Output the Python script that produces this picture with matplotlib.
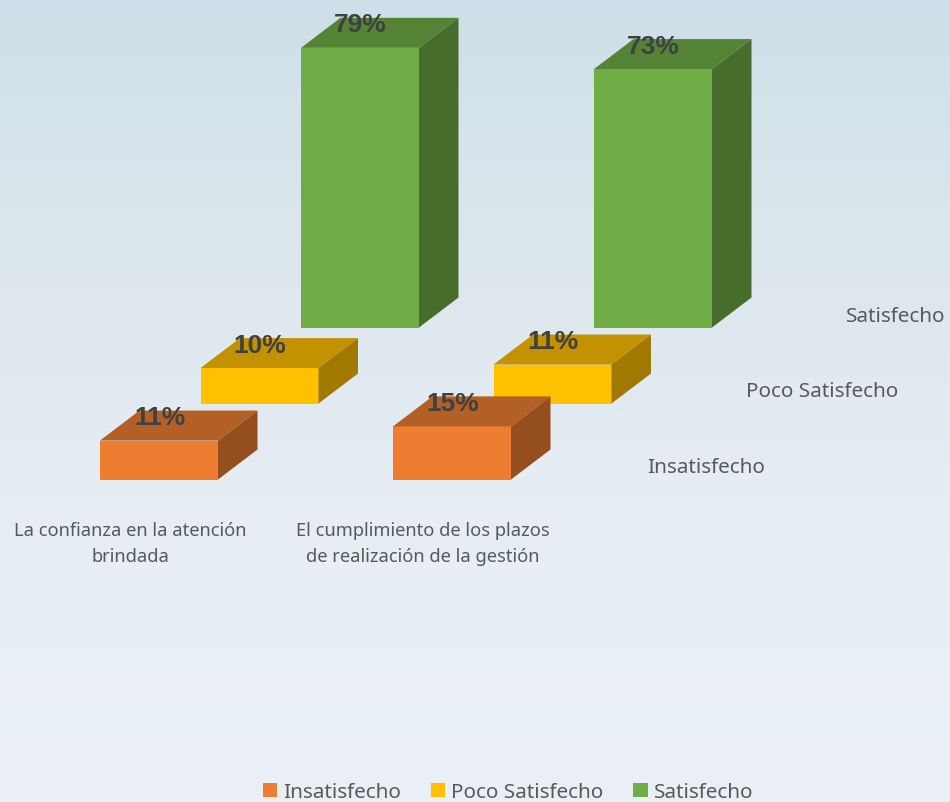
import numpy as np
import matplotlib
matplotlib.use("Agg")
import matplotlib.pyplot as plt
from matplotlib.patches import Polygon, Patch
from matplotlib.colors import LinearSegmentedColormap, to_rgb

categories = ["La confianza en la atención\nbrindada",
              "El cumplimiento de los plazos\nde realización de la gestión"]
series = ["Insatisfecho", "Poco Satisfecho", "Satisfecho"]
insatisfecho = [11, 15]
poco_satisfecho = [10, 11]
satisfecho = [79, 73]
values = [insatisfecho, poco_satisfecho, satisfecho]
colors = ["#ED7D31", "#FFC000", "#70AD47"]

W, H = 950, 803
PX = 3.54            # pixels per percentage point
BASE_Y = 480.5       # pixel row of the front series' floor
X0, CAT_STEP, SER_STEP_X, SER_STEP_Y = 100, 293, 100.5, 76
BAR_W, DX, DY = 118, 39.5, 30
TXT = "#404040"
SANS = "Noto Sans"

def shade(c, f):
    return tuple(v * f for v in to_rgb(c))

fig = plt.figure(figsize=(W / 100, H / 100), dpi=100)
ax = fig.add_axes([0, 0, 1, 1])
ax.set_xlim(0, W)
ax.set_ylim((BASE_Y - H) / PX, BASE_Y / PX)
ax.axis("off")

cmap = LinearSegmentedColormap.from_list(
    "bg", [(0, "#CDDFE8"), (0.2, "#D8E4EB"), (0.4, "#DFE8EF"),
           (0.62, "#E6EEF4"), (1, "#EBF0F7")])
ax.imshow(np.linspace(0, 1, 400)[:, None], cmap=cmap, aspect="auto",
          extent=[0, W, (BASE_Y - H) / PX, BASE_Y / PX], zorder=0)

dx, dy = DX, DY / PX
for s in range(len(series) - 1, -1, -1):
    base = s * SER_STEP_Y / PX
    for c, v in enumerate(values[s]):
        x = X0 + c * CAT_STEP + s * SER_STEP_X
        top = base + v
        ax.bar(x, v, BAR_W, bottom=base, align="edge", color=colors[s], zorder=3 + 3 - s)
        ax.add_patch(Polygon([(x, top), (x + BAR_W, top), (x + BAR_W + dx, top + dy), (x + dx, top + dy)],
                             closed=True, fc=shade(colors[s], 0.76), ec="none", zorder=3 + 3 - s))
        ax.add_patch(Polygon([(x + BAR_W, base), (x + BAR_W + dx, base + dy), (x + BAR_W + dx, top + dy), (x + BAR_W, top)],
                             closed=True, fc=shade(colors[s], 0.63), ec="none", zorder=3 + 3 - s))

for s in range(len(series)):
    base = s * SER_STEP_Y / PX
    for c, v in enumerate(values[s]):
        x = X0 + c * CAT_STEP + s * SER_STEP_X
        ax.text(x + BAR_W / 2 + 0.5, base + v + 23.5 / PX, f"{v}%", ha="center", va="center",
                fontsize=19, fontweight="bold", family="Liberation Sans", color=TXT, zorder=20)
    ax.text(647 + s * 99.5, (BASE_Y - 468) / PX + s * 75.5 / PX, series[s],
            ha="left", va="center", fontsize=14.9, family=SANS, color="#595959", zorder=20)

for c, name in enumerate(categories):
    ax.text(130 + c * 292.5, (BASE_Y - 544) / PX, name, ha="center", va="center",
            fontsize=13.2, family=SANS, color="#595959", linespacing=1.6, zorder=20)

handles = [Patch(fc=col, ec="none") for col in colors]
leg = ax.legend(handles, series, ncol=3, loc="center", bbox_to_anchor=(508 / W, (803 - 793.5) / H),
                borderaxespad=0, borderpad=0,
                frameon=False, prop={"family": SANS, "size": 14.9}, labelcolor="#595959",
                handlelength=0.68, handleheight=0.68, handletextpad=0.3, columnspacing=1.45)
fig.savefig("out.png", dpi=100)
